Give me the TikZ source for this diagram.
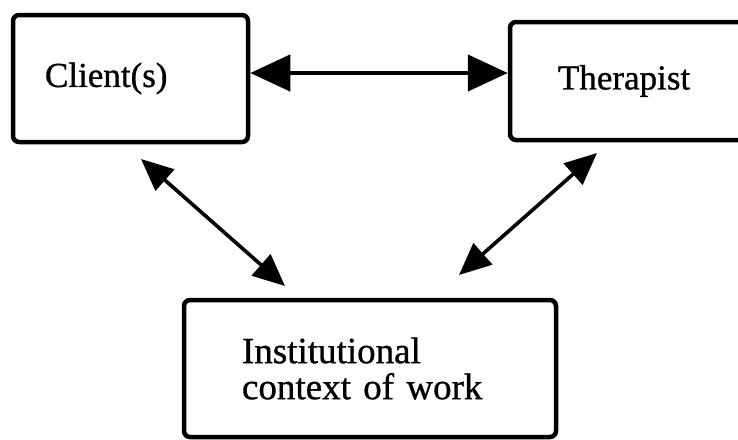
\documentclass[tikz,border=0pt]{standalone}
\usepackage{fontspec}
\setmainfont{Liberation Serif}
\newfontface\labelface{Liberation Serif}[FakeBold=0.9]
\usetikzlibrary{arrows.meta}
\begin{document}
\begin{tikzpicture}[x=1pt,y=-1pt,
  box/.style={draw, line width=4.5pt, rounded corners=6pt, inner ysep=0pt, align=left},
  toptext/.style={font=\labelface\fontsize{35}{40}\selectfont},
  bottomtext/.style={font=\labelface\fontsize{37}{36}\selectfont},
  bigarrow/.style={line width=4.5pt, {Triangle[length=40pt,width=36pt]}-{Triangle[length=40pt,width=36pt]}},
  diagarrow/.style={line width=3.6pt, {Triangle[length=32pt,width=28pt]}-{Triangle[length=32pt,width=28pt]}}]
\useasboundingbox (0,0) rectangle (738,439);
\clip (0,0) rectangle (738,439);

% the three boxes
\node[box, toptext, minimum width=235pt, minimum height=127pt,
      inner xsep=32pt, text width=171pt] (client) at (130.5,78.5) {Client(s)};
\node[box, toptext, minimum width=250pt, minimum height=118pt,
      inner xsep=48pt, text width=154pt] (therapist) at (635,81) {Therapist};
\node[box, bottomtext, minimum width=372pt, minimum height=137pt,
      inner xsep=58pt, text width=256pt] (context) at (370,368.5) {Institutional\\context of work};

% two-way links
\draw[bigarrow] ([yshift=5.5pt]client.east) -- ([yshift=5.5pt]client.east -| therapist.west);

\coordinate (c1) at (141,159);
\coordinate (c2) at (285,286);
\coordinate (t1) at (597,153);
\coordinate (t2) at (459,275);
\draw[diagarrow] (c1) -- (c2);
\draw[diagarrow] (t1) -- (t2);
\end{tikzpicture}
\end{document}
